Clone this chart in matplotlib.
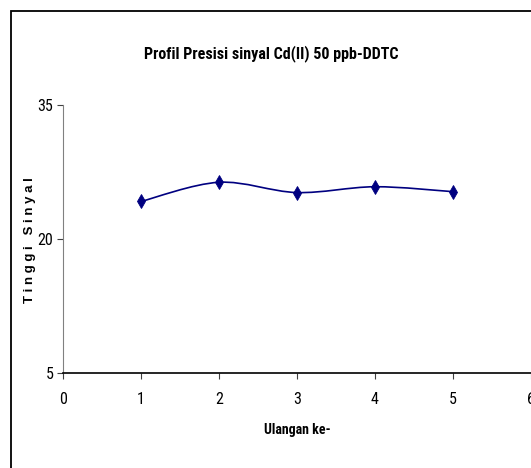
import numpy as np
import matplotlib
matplotlib.use("Agg")
import matplotlib.pyplot as plt
from matplotlib.path import Path
from matplotlib.patches import PathPatch, Rectangle

# data
ulangan = [1, 2, 3, 4, 5]
tinggi = [24.2, 26.35, 25.2, 25.85, 25.3]
y_ticks = [5, 20, 35]
x_ticks = [0, 1, 2, 3, 4, 5, 6]

narrow = ['Roboto Condensed', 'Archivo Narrow', 'DejaVu Sans']
plt.rcParams['font.family'] = narrow

fig = plt.figure(figsize=(5.31, 4.68), dpi=100)
ax = fig.add_axes([63 / 531, 1 - 373 / 468, 467.7 / 531, 268 / 468])

# smoothed line (Excel style) as bezier through the points
x = np.array(ulangan, dtype=float)
y = np.array(tinggi, dtype=float)
t = 1 / 6
verts = [(x[0], y[0])]
codes = [Path.MOVETO]
for i in range(len(x) - 1):
    x0, y0 = (x[i - 1], y[i - 1]) if i > 0 else (x[i], y[i])
    x3, y3 = (x[i + 2], y[i + 2]) if i + 2 < len(x) else (x[i + 1], y[i + 1])
    c1 = (x[i] + (x[i + 1] - x0) * t, y[i] + (y[i + 1] - y0) * t)
    c2 = (x[i + 1] - (x3 - x[i]) * t, y[i + 1] - (y3 - y[i]) * t)
    verts += [c1, c2, (x[i + 1], y[i + 1])]
    codes += [Path.CURVE4] * 3
ax.add_patch(PathPatch(Path(verts, codes), fill=False, edgecolor='#000080', lw=1.2))
ax.plot(ulangan, tinggi, linestyle='none', marker='d', color='#000080',
        markersize=7, markeredgewidth=0.6)

ax.set_xlim(0, 6)
ax.set_ylim(5, 35)
ax.set_xticks(x_ticks)
ax.set_yticks(y_ticks)
ax.spines['top'].set_visible(False)
ax.spines['right'].set_visible(False)
ax.spines['left'].set_color('#808080')
ax.spines['bottom'].set_linewidth(1.2)
ax.tick_params(axis='both', labelsize=11.5, length=4, color='#404040', pad=10)
ax.tick_params(axis='y', pad=3)

ax.set_xlabel('Ulangan ke-', fontsize=10, fontweight='bold', labelpad=11)
fig.text(30 / 531, 1 - 240 / 468, 'T i n g g i   S i n y a l', rotation=90,
         fontsize=9.5, fontweight='bold', family=['Liberation Sans', 'DejaVu Sans'],
         ha='center', va='center')
fig.text(271 / 531, 1 - 54 / 468, 'Profil Presisi sinyal Cd(II) 50 ppb-DDTC',
         fontsize=11.5, fontweight='bold', ha='center', va='center')

# chart area border
fig.add_artist(Rectangle((11 / 531, -0.1), 1.2, 1 - 10.5 / 468 + 0.1,
                         transform=fig.transFigure, fill=False, lw=1.3,
                         edgecolor='black'))

fig.savefig('out.png', dpi=100)
